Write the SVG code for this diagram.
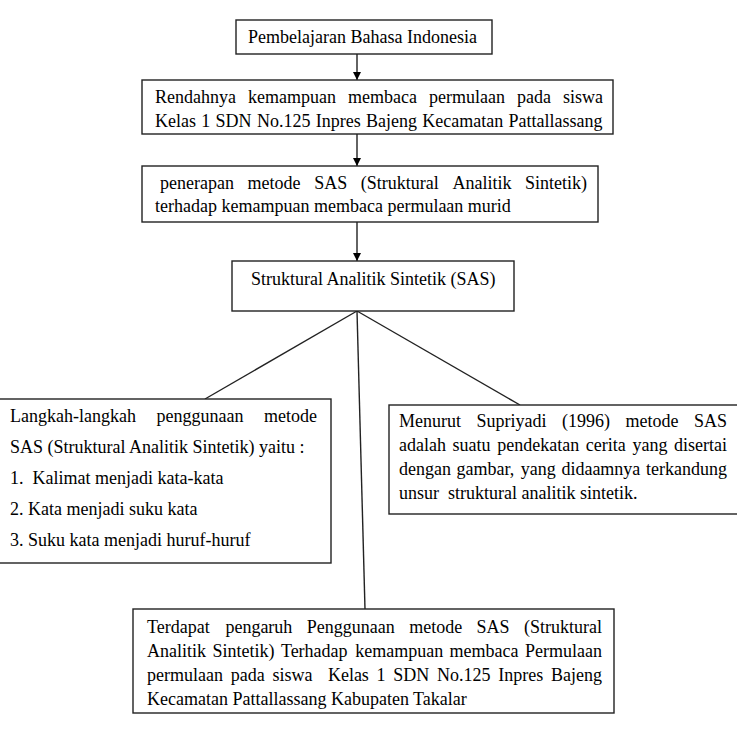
<svg xmlns="http://www.w3.org/2000/svg" width="737" height="734" viewBox="0 0 737 734">
<style>
.box{fill:#fff;stroke:#222;stroke-width:1.4}
.t{font-family:"Liberation Serif","Times New Roman",serif;font-size:18px;fill:#000}
.c{stroke:#222;stroke-width:1.4;fill:none}
</style>
<defs>
<marker id="arr" viewBox="0 0 10 10" refX="10" refY="5" markerWidth="8" markerHeight="8" markerUnits="userSpaceOnUse" orient="auto">
<path d="M0,0 L10,5 L0,10 z" fill="#000"/>
</marker>
</defs>
<rect width="737" height="734" fill="#fff"/>
<g id="connectors">
<line class="c" x1="357" y1="54" x2="357" y2="80" marker-end="url(#arr)"/>
<line class="c" x1="357" y1="134" x2="357" y2="166" marker-end="url(#arr)"/>
<line class="c" x1="357" y1="222" x2="357" y2="261" marker-end="url(#arr)"/>
<line class="c" x1="357" y1="311" x2="205" y2="399"/>
<line class="c" x1="357" y1="311" x2="520" y2="405"/>
<line class="c" x1="357" y1="311" x2="365" y2="609"/>
</g>
<g id="n1">
<rect class="box" x="236" y="20" width="256" height="34"/>
<text class="t" x="248" y="43">Pembelajaran Bahasa Indonesia</text>
</g>
<g id="n2">
<rect class="box" x="142" y="80" width="471" height="54"/>
<text class="t" y="103"><tspan x="155">Rendahnya</tspan><tspan x="248">kemampuan</tspan><tspan x="348">membaca</tspan><tspan x="429">permulaan</tspan><tspan x="517">pada</tspan><tspan x="563">siswa</tspan></text>
<text class="t" x="155" y="127" word-spacing="0.8">Kelas 1 SDN No.125 Inpres Bajeng Kecamatan Pattallassang</text>
</g>
<g id="n3">
<rect class="box" x="142" y="166" width="456" height="56"/>
<text class="t" y="189"><tspan x="160">penerapan</tspan><tspan x="247.6">metode</tspan><tspan x="314.2">SAS</tspan><tspan x="360.8">(Struktural</tspan><tspan x="452.4">Analitik</tspan><tspan x="525">Sintetik)</tspan></text>
<text class="t" x="155" y="212">terhadap kemampuan membaca permulaan murid</text>
</g>
<g id="n4">
<rect class="box" x="232" y="261" width="282" height="50"/>
<text class="t" x="251" y="285">Struktural Analitik Sintetik (SAS)</text>
</g>
<g id="n5">
<rect class="box" x="-2" y="399" width="333" height="164"/>
<text class="t" y="422"><tspan x="10">Langkah-langkah</tspan><tspan x="156.5">penggunaan</tspan><tspan x="264">metode</tspan></text>
<text class="t" x="10" y="453">SAS (Struktural Analitik Sintetik) yaitu :</text>
<text class="t" y="484"><tspan x="10">1.</tspan><tspan x="32.5">Kalimat menjadi kata-kata</tspan></text>
<text class="t" x="10" y="515">2. Kata menjadi suku kata</text>
<text class="t" x="10" y="546">3. Suku kata menjadi huruf-huruf</text>
</g>
<g id="n6">
<rect class="box" x="389" y="405" width="352" height="109"/>
<text class="t" y="427"><tspan x="399">Menurut</tspan><tspan x="476.5">Supriyadi</tspan><tspan x="562">(1996)</tspan><tspan x="625.5">metode</tspan><tspan x="694">SAS</tspan></text>
<text class="t" y="451"><tspan x="399">adalah</tspan><tspan x="452.6">suatu</tspan><tspan x="497.2">pendekatan</tspan><tspan x="585.8">cerita</tspan><tspan x="632.4">yang</tspan><tspan x="674">disertai</tspan></text>
<text class="t" y="475"><tspan x="399">dengan</tspan><tspan x="456.6">gambar,</tspan><tspan x="520.8">yang</tspan><tspan x="561.4">didaamnya</tspan><tspan x="646">terkandung</tspan></text>
<text class="t" y="499"><tspan x="399">unsur</tspan><tspan x="448">struktural analitik sintetik.</tspan></text>
</g>
<g id="n7">
<rect class="box" x="133" y="609" width="481" height="104"/>
<text class="t" y="633"><tspan x="147">Terdapat</tspan><tspan x="225.4">pengaruh</tspan><tspan x="306.8">Penggunaan</tspan><tspan x="409.2">metode</tspan><tspan x="476.6">SAS</tspan><tspan x="524">(Struktural</tspan></text>
<text class="t" y="657"><tspan x="147">Analitik</tspan><tspan x="212.4">Sintetik)</tspan><tspan x="280.9">Terhadap</tspan><tspan x="355.2">kemampuan</tspan><tspan x="449.6">membaca</tspan><tspan x="525">Permulaan</tspan></text>
<text class="t" y="681"><tspan x="147">permulaan</tspan><tspan x="230.7">pada</tspan><tspan x="272.4">siswa</tspan><tspan x="327.9">Kelas</tspan><tspan x="376.6">1</tspan><tspan x="393.3">SDN</tspan><tspan x="437.1">No.125</tspan><tspan x="498.3">Inpres</tspan><tspan x="551">Bajeng</tspan></text>
<text class="t" x="147" y="705">Kecamatan Pattallassang Kabupaten Takalar</text>
</g>
</svg>
